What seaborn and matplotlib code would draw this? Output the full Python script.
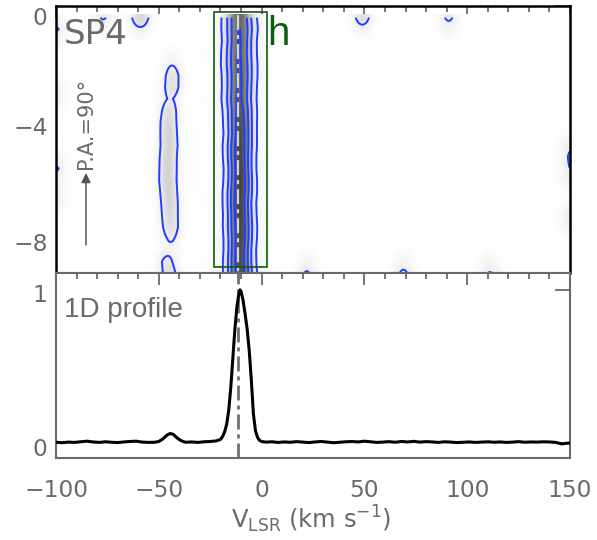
import numpy as np
import matplotlib
matplotlib.use("Agg")
import matplotlib.pyplot as plt
import seaborn as sns
from matplotlib.patches import Rectangle
from matplotlib.colors import PowerNorm
from matplotlib.ticker import MultipleLocator, FixedLocator
from matplotlib.transforms import ScaledTranslation

sns.set_theme(style="white")
plt.rcParams["font.family"] = ["DejaVu Sans"]
plt.rcParams["mathtext.fontset"] = "dejavusans"
plt.rcParams["mathtext.default"] = "regular"
plt.rcParams["lines.scale_dashes"] = False

# ---------------- data ----------------
# 1D profile (bottom panel)
prof_v = [-100, -97, -94, -91, -88, -85, -82, -79, -76, -73, -70, -67, -64, -61, -58, -55, -52,
          -50, -48, -46, -44.5, -43, -41, -39, -37,
          -34, -31, -28, -25, -22,
          -20, -19, -18, -17, -16, -15, -14, -13, -12, -11,
          -10.5, -10, -9, -8, -7, -6, -5, -4, -3, -2, -1, 0,
          2, 5, 8, 11, 14, 17, 20, 23, 26, 29, 32, 35, 38, 41, 44, 47, 50, 53, 56, 59, 62,
          65, 68, 71, 74, 77, 80, 83, 86, 89, 92, 95, 98, 101, 104, 107, 110, 113, 116, 119,
          122, 125, 128, 131, 134, 137, 140, 143, 146, 148, 150]
prof_i = [0.003, 0.000, 0.004, 0.002, 0.006, 0.010, 0.005, 0.002, 0.006, 0.003, 0.001, 0.005, 0.008, 0.010, 0.004, 0.002, 0.003,
          0.008, 0.025, 0.050, 0.060, 0.055, 0.030, 0.012, 0.003,
          0.005, 0.002, 0.006, 0.008, 0.012,
          0.022, 0.040, 0.070, 0.120, 0.210, 0.360, 0.550, 0.740, 0.890, 0.980,
          1.000, 0.990, 0.930, 0.840, 0.740, 0.600, 0.410, 0.190, 0.080, 0.035, 0.015, 0.008,
          0.004, 0.006, 0.002, 0.005, 0.003, 0.007, 0.004, 0.001, 0.005, 0.008, 0.004, 0.000, 0.003, 0.006, 0.008, 0.005, 0.010, 0.006, 0.002, 0.004, 0.007,
          0.003, 0.008, 0.005, 0.009, 0.004, 0.007, 0.005, 0.002, 0.006, 0.004, 0.001, 0.003, 0.005, 0.002, 0.004, 0.006, 0.003, 0.005, 0.002,
          0.004, 0.007, 0.003, 0.005, 0.004, 0.006, 0.005, 0.002, -0.008, -0.004, -0.002]
assert len(prof_v) == len(prof_i)
v_ref = -11.5  # dash-dot reference velocity

# position-velocity map (top panel): per-row parameters
pos_rows = [-0.4, -0.8, -1.2, -1.6, -2.0, -2.4, -2.8, -3.2, -3.6, -4.0, -4.4, -4.8,
            -5.2, -5.6, -6.0, -6.4, -6.8, -7.2, -7.6, -8.0, -8.4, -8.8, -9.2]
main_amp = [0.78, 0.79, 0.80, 0.80, 0.81, 0.81, 0.82, 0.83, 0.87, 0.92, 0.95, 0.97,
            0.98, 0.99, 1.00, 1.00, 1.00, 0.99, 0.98, 0.97, 0.96, 0.95, 0.94]
main_ctr = [-10.9, -10.7, -10.8, -11.0, -10.9, -10.7, -10.8, -11.0, -10.6, -10.5, -10.4, -10.6,
            -10.7, -10.5, -10.4, -10.6, -10.8, -10.6, -10.5, -10.4, -10.6, -10.7, -10.5]
main_sig = [3.9, 4.0, 3.8, 3.9, 4.0, 3.9, 3.8, 3.8, 3.7, 3.6, 3.5, 3.6,
            3.5, 3.4, 3.5, 3.6, 3.5, 3.5, 3.6, 3.5, 3.4, 3.5, 3.6]
wing_amp, wing_sig = 0.06, 8.0
sec_amp = [0.0, 0.0, 0.0, 0.03, 0.09, 0.17, 0.18, 0.11, 0.19, 0.23, 0.25, 0.26,
           0.26, 0.27, 0.27, 0.26, 0.25, 0.23, 0.21, 0.12, 0.06, 0.14, 0.17]
sec_ctr = [-44.5, -44.5, -44.5, -43.8, -43.6, -43.5, -43.7, -44.5, -45.0, -45.3, -45.2, -45.0,
           -45.4, -45.5, -45.6, -45.2, -44.8, -44.6, -44.3, -44.2, -44.5, -46.0, -45.0]
sec_sig = 3.0
blob_v = [-59, -77, 49, 91, -100, -100, -100, -100, 150, 150, 150, 22, 69, 111]
blob_p = [-0.3, -0.4, -0.3, -0.4, -0.8, -3.0, -5.6, -6.6, -5.0, -5.8, -7.4, -9.2, -9.2, -9.2]
blob_a = [0.26, 0.11, 0.19, 0.12, 0.11, 0.105, 0.11, 0.105, 0.115, 0.105, 0.11, 0.11, 0.12, 0.105]
blob_sv, blob_sp = 3.0, 0.3
contour_levels = [0.1, 0.3, 0.55, 0.85]
box_v = (-23.2, 2.6)
box_p = (-9.0, -0.2)

# ---------------- build map ----------------
vg = np.linspace(-100, 150, 1001)
P = np.array(pos_rows)[:, None]
A = np.array(main_amp)[:, None]
C = np.array(main_ctr)[:, None]
S = np.array(main_sig)[:, None]
M = A * np.exp(-0.5 * ((vg - C) / S) ** 2) + wing_amp * np.exp(-0.5 * ((vg - C) / wing_sig) ** 2)
M += np.array(sec_amp)[:, None] * np.exp(-0.5 * ((vg - np.array(sec_ctr)[:, None]) / sec_sig) ** 2)
for bv, bp, ba in zip(blob_v, blob_p, blob_a):
    M += ba * np.exp(-0.5 * ((vg - bv) / blob_sv) ** 2) * np.exp(-0.5 * ((P - bp) / blob_sp) ** 2)

# ---------------- figure ----------------
W, H = 597, 540
fig = plt.figure(figsize=(W / 100, H / 100), dpi=100)
L, R = 56, 570
ax1 = fig.add_axes([L / W, 1 - 273 / H, (R - L) / W, (273 - 6) / H])
ax2 = fig.add_axes([L / W, 1 - 458 / H, (R - L) / W, (458 - 273) / H])

gray = "#6a6a6a"
blue = "#1f3dff"
green = "#0d5e0d"

ax1.imshow(M, extent=[-100, 150, -9.3, -0.3], origin="upper",
           aspect="auto", cmap="Greys", norm=PowerNorm(gamma=0.75, vmin=0, vmax=1.45),
           interpolation="bilinear", zorder=1)
ax1.contour(vg, pos_rows, M, levels=contour_levels, colors=blue, linewidths=1.4, zorder=2)
ax1.plot([v_ref, v_ref], [pos_rows[0] + 0.1, pos_rows[-1]], color="#d4d4d4", lw=1.6,
         dashes=(10.8, 3.6, 2.9, 3.6), zorder=3)
ax1.add_patch(Rectangle((box_v[0], box_p[0]), box_v[1] - box_v[0], box_p[1] - box_p[0],
                        fill=False, ec=green, lw=1.2, zorder=4))
ax1.set_xlim(-100, 150)
ax1.set_ylim(-9.2, 0)

sns.lineplot(x=prof_v, y=prof_i, ax=ax2, color="black", lw=2.2, zorder=3)
ax2.axvline(v_ref, color="#707070", lw=2.0, dashes=(10.8, 3.6, 2.9, 3.6), zorder=2)
ax2.set_xlim(-100, 150)
ax2.set_ylim(-0.1, 1.11)

for ax in (ax1, ax2):
    ax.set_facecolor("white")
    ax.xaxis.set_major_locator(MultipleLocator(50))
    ax.xaxis.set_minor_locator(MultipleLocator(10))
    ax.tick_params(axis="both", which="both", direction="in", top=True, right=True,
                   colors=gray, labelcolor=gray, labelsize=16.8)
    ax.tick_params(axis="x", which="major", length=8.6, width=1.3, pad=15.0)
    ax.tick_params(axis="x", which="minor", length=4.3, width=1.3)
    ax.tick_params(axis="y", which="major", length=10.8, width=1.3, pad=6.0)
    ax.tick_params(axis="y", which="minor", length=0)
    ax.set_xlabel("")
    ax.set_ylabel("")
    for sp in ax.spines.values():
        sp.set_color(gray)
        sp.set_linewidth(1.5)

ax1.yaxis.set_major_locator(FixedLocator([-8, -4, 0]))
ax1.set_yticklabels(["\u22128", "\u22124", "0"])
ax1.tick_params(axis="x", labelbottom=False)
for k in ("top", "left", "right"):
    ax1.spines[k].set_color("black")
    ax1.spines[k].set_linewidth(1.8)
ax1.spines["bottom"].set_zorder(6)

ax2.yaxis.set_major_locator(FixedLocator([0, 1]))
ax2.set_yticklabels(["0", "1"])

# shift y tick labels slightly down as in the reference
for ax in (ax1, ax2):
    for lbl in ax.get_yticklabels():
        dy = 3.0
        if ax is ax1 and lbl.get_text() == "0":
            dy = 7.5
        if ax is ax2 and lbl.get_text() == "1":
            dy = 2.0
        lbl.set_transform(lbl.get_transform() + ScaledTranslation(0, -dy / 72, fig.dpi_scale_trans))

# texts
fig.text(64 / W, 1 - 43.5 / H, "SP4", fontsize=24.5, color=gray, ha="left", va="baseline")
fig.text(267 / W, 1 - 45 / H, "h", fontsize=29, color=green, ha="left", va="baseline",
         family=["Liberation Sans", "DejaVu Sans"])
fig.text(64 / W, 1 - 317 / H, "1D profile", fontsize=20, color=gray, ha="left", va="baseline",
         family=["Liberation Sans", "DejaVu Sans"])
fig.text(86 / W, 1 - 123.5 / H, "P.A.=90\u00b0", fontsize=15, color=gray, rotation=90,
         ha="center", va="center")
fig.text(311 / W, 1 - 528 / H, r"V$_{LSR}$ (km s$^{-1}$)", fontsize=17.5, color=gray,
         ha="center", va="baseline")
ax1.annotate("", xy=(86, H - 173), xytext=(86, H - 245), xycoords="figure pixels",
             textcoords="figure pixels",
             arrowprops=dict(arrowstyle="-|>", color="#555555", lw=1.1, mutation_scale=14,
                             shrinkA=0, shrinkB=0))

fig.savefig("out.png", dpi=100)
